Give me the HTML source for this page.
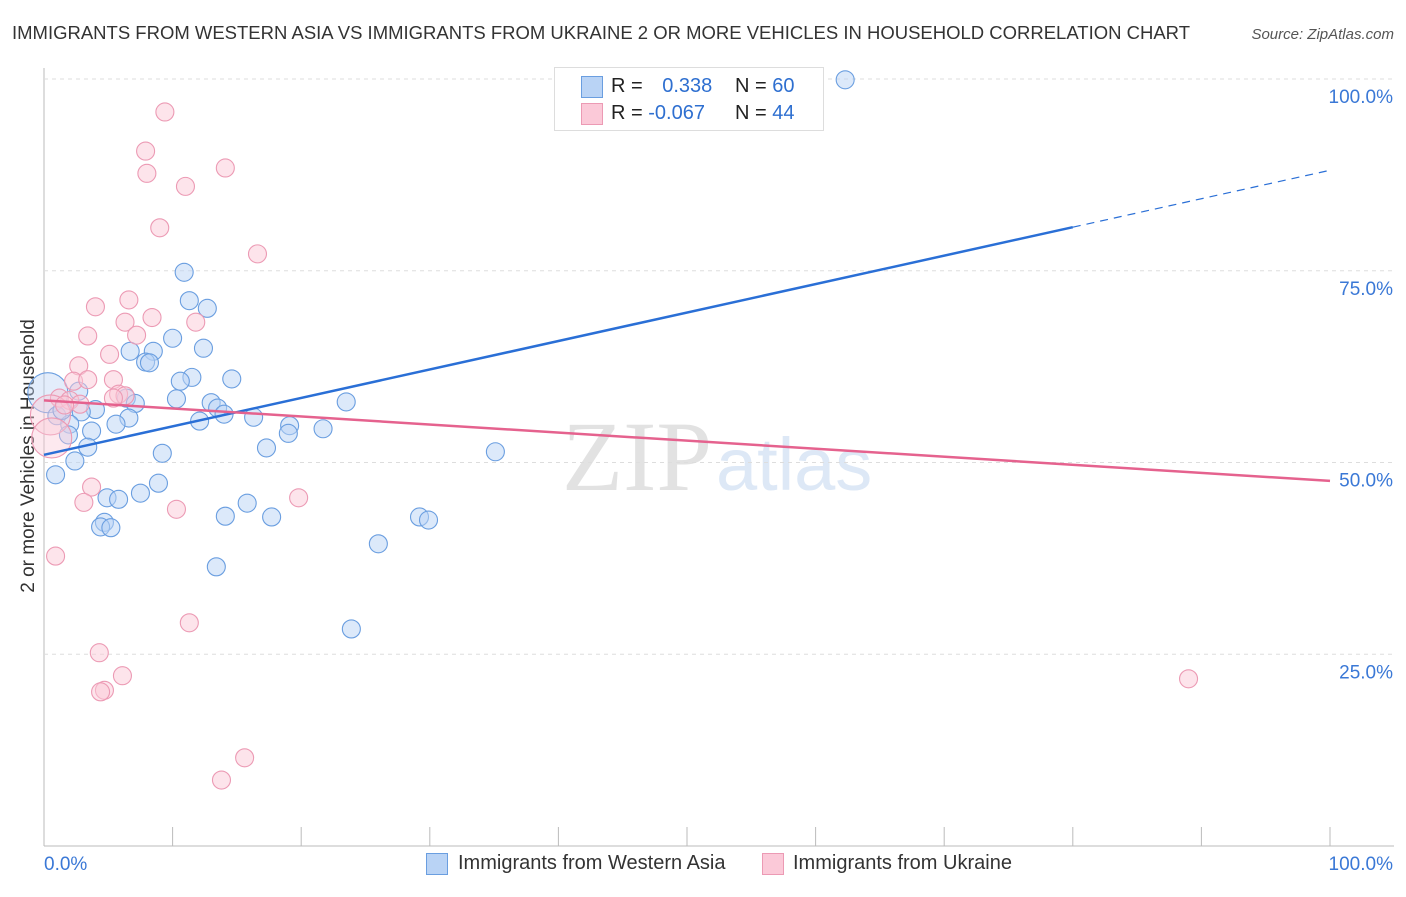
<!DOCTYPE html>
<html><head><meta charset="utf-8"><style>
body{margin:0;background:#fff;font-family:"Liberation Sans",sans-serif;}
#wrap{position:relative;width:1406px;height:892px;}
</style></head><body>
<div id="wrap">
<svg id="svg" width="1406" height="892" xmlns="http://www.w3.org/2000/svg">
<text x="12" y="39" font-size="18.5" fill="#333" textLength="1178" lengthAdjust="spacingAndGlyphs">IMMIGRANTS FROM WESTERN ASIA VS IMMIGRANTS FROM UKRAINE 2 OR MORE VEHICLES IN HOUSEHOLD CORRELATION CHART</text>
<text x="1394" y="39" font-size="15" fill="#555" text-anchor="end" font-style="italic">Source: ZipAtlas.com</text>
<text x="34" y="456" font-size="19" fill="#333" text-anchor="middle" transform="rotate(-90 34 456)">2 or more Vehicles in Household</text>
<text x="712" y="490" font-size="100" fill="#e2e2e2" text-anchor="end" font-family="Liberation Serif">ZIP</text>
<text x="716" y="490" font-size="74" fill="#dde8f6">atlas</text>
<g id="grid"></g><g id="pts"></g><g id="lines"></g>
</svg>
<div style="position:absolute;left:554px;top:67px;width:268px;height:62px;border:1px solid #ddd;background:#fff;font-size:20px;">
 <div style="position:absolute;left:26px;top:8px;width:20px;height:20px;background:#b9d3f5;border:1px solid #6a9ee0;"></div>
 <div style="position:absolute;left:56px;top:7px;color:#222;">R = <span style="color:#2e6fd0;margin-left:14px">0.338</span></div>
 <div style="position:absolute;left:180px;top:7px;color:#222;">N = <span style="color:#2e6fd0">60</span></div>
 <div style="position:absolute;left:26px;top:35px;width:20px;height:20px;background:#fbc9d8;border:1px solid #ec9ab4;"></div>
 <div style="position:absolute;left:56px;top:34px;color:#222;">R = <span style="color:#2e6fd0">-0.067</span></div>
 <div style="position:absolute;left:180px;top:34px;color:#222;">N = <span style="color:#2e6fd0">44</span></div>
</div>
<div style="position:absolute;left:426px;top:853px;width:20px;height:20px;background:#b9d3f5;border:1px solid #6a9ee0;"></div>
<div style="position:absolute;left:458px;top:852px;font-size:20px;color:#333;">Immigrants from Western Asia</div>
<div style="position:absolute;left:762px;top:853px;width:20px;height:20px;background:#fbc9d8;border:1px solid #ec9ab4;"></div>
<div style="position:absolute;left:793px;top:852px;font-size:20px;color:#333;">Immigrants from Ukraine</div>
</div>
<script>
const blueX=[62.3,10.9,11.3,12.7,10.0,12.4,6.7,8.5,7.9,8.2,11.5,10.6,14.6,2.7,0.3,6.4,10.3,23.5,13.0,7.1,13.5,4.0,2.9,14.0,1.0,16.3,6.6,12.1,2.0,5.6,19.1,21.7,3.7,19.0,1.9,3.4,17.3,35.1,9.2,2.4,0.9,8.9,7.5,4.9,5.8,15.8,14.1,17.7,29.2,29.9,4.7,4.4,5.2,26.0,13.4,23.9,1.4];
const blueY=[99.9,74.8,71.1,70.1,66.2,64.9,64.5,64.5,63.1,63.0,61.1,60.6,60.9,59.3,59.1,58.4,58.3,57.9,57.8,57.7,57.1,56.9,56.6,56.3,56.1,55.9,55.8,55.4,55.0,55.0,54.8,54.4,54.1,53.8,53.6,52.0,51.9,51.4,51.2,50.2,48.4,47.3,46.0,45.4,45.2,44.7,43.0,42.9,42.9,42.5,42.2,41.6,41.5,39.4,36.4,28.3,56.8];
const blueBig=[14];
const pinkX=[9.4,7.9,14.1,8.0,11.0,9.0,16.6,6.6,4.0,8.4,6.3,11.8,3.4,7.2,5.1,2.7,2.3,5.4,3.4,5.8,6.3,5.4,1.2,2.0,0.5,2.8,1.6,0.6,3.7,3.1,10.3,19.8,0.9,11.3,4.3,6.1,4.7,4.4,15.6,13.8,89.0,50.0];
const pinkY=[95.7,90.6,88.4,87.7,86.0,80.6,77.2,71.2,70.3,68.9,68.3,68.3,66.5,66.6,64.1,62.6,60.6,60.8,60.8,58.9,58.7,58.4,58.4,58.1,56.2,57.6,57.5,53.2,46.8,44.8,43.9,45.4,37.8,29.1,25.2,22.2,20.3,20.1,11.5,8.6,21.8,99.9];
const pinkBig=[24,27];
const blueTrend=[51.0,88.1];
const pinkTrend=[58.1,47.6];
const yTicks=[25,50,75,100];
const yTickLabels=["25.0%","50.0%","75.0%","100.0%"];
const NS="http://www.w3.org/2000/svg";
const X=v=>44+v*12.86, Y=v=>846-v*7.67;
function mk(t,a,p){const e=document.createElementNS(NS,t);for(const k in a)e.setAttribute(k,a[k]);document.getElementById(p).appendChild(e);return e;}
let e=mk('line',{x1:44,y1:68,x2:44,y2:846,stroke:'#bbb'},'grid');


e=mk('line',{x1:44,y1:846,x2:1394,y2:846,stroke:'#bbb'},'grid');


for(let i=0;i<=10;i++){e=mk('line',{x1:X(i*10),y1:827,x2:X(i*10),y2:846,stroke:'#bbb'},'grid');

}
yTicks.forEach((t,i)=>{e=mk('line',{x1:44,y1:Y(t),x2:1394,y2:Y(t),stroke:'#ddd','stroke-dasharray':'4,4'},'grid');


e=mk('text',{x:1393,y:Y(t)+24,'font-size':19,fill:'#3a78d6','text-anchor':'end'},'grid');e.textContent=yTickLabels[i];

});
e=mk('text',{x:44,y:870,'font-size':19,fill:'#3a78d6'},'grid');e.textContent='0.0%';


e=mk('text',{x:1393,y:870,'font-size':19,fill:'#3a78d6','text-anchor':'end'},'grid');e.textContent='100.0%';


function pts(xs,ys,big,fill,stroke,name){xs.forEach((x,i)=>{const r=big.includes(i)?20:9;
const c=mk('circle',{cx:X(x),cy:Y(ys[i]),r:r,fill:fill,'fill-opacity':big.includes(i)?0.4:0.5,stroke:stroke,'stroke-width':1.1},'pts');

});}
pts(blueX,blueY,blueBig,'#b9d3f5','#6a9ee0','point-western-asia');
pts(pinkX,pinkY,pinkBig,'#fbc9d8','#ec9ab4','point-ukraine');
const bAt=x=>blueTrend[0]+(blueTrend[1]-blueTrend[0])*x/100;
e=mk('line',{x1:X(0),y1:Y(bAt(0)),x2:X(80),y2:Y(bAt(80)),stroke:'#2a6fd6','stroke-width':2.5},'lines');


e=mk('line',{x1:X(80),y1:Y(bAt(80)),x2:X(100),y2:Y(bAt(100)),stroke:'#2a6fd6','stroke-width':1.2,'stroke-dasharray':'8,6'},'lines');


e=mk('line',{x1:X(0),y1:Y(pinkTrend[0]),x2:X(100),y2:Y(pinkTrend[1]),stroke:'#e5628e','stroke-width':2.5},'lines');


</script>
</body></html>
